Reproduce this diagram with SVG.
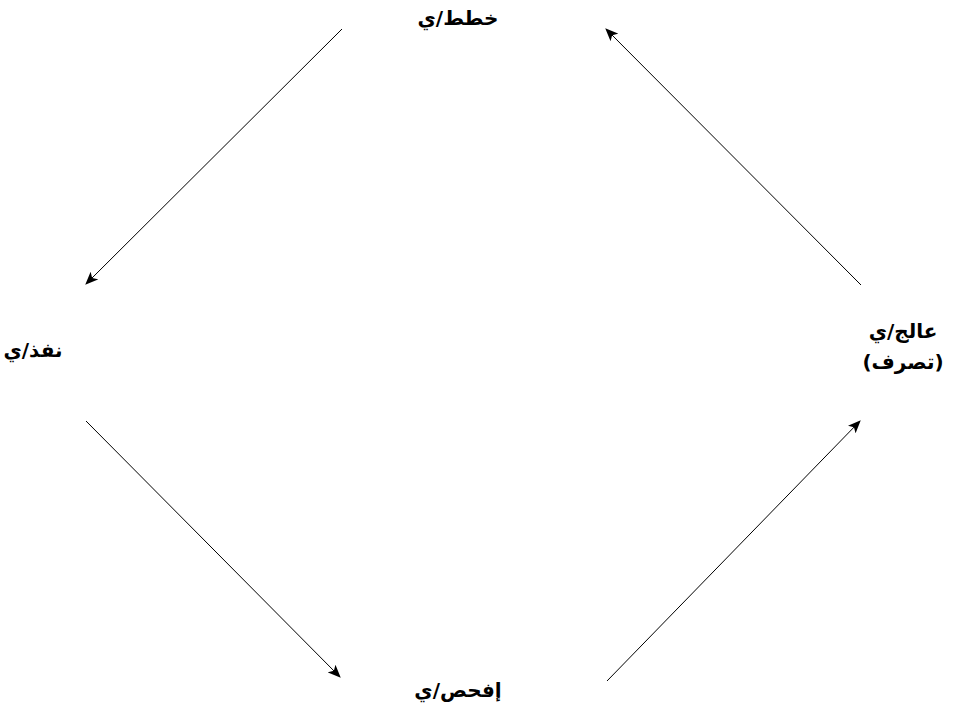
<svg xmlns="http://www.w3.org/2000/svg" width="958" height="709" viewBox="0 0 958 709">
<style>
.lbl{font-family:"DejaVu Sans","Noto Sans",sans-serif;font-weight:bold;font-size:20px;fill:#000;direction:rtl;unicode-bidi:embed}
.edge{stroke:#000;stroke-width:1;fill:none;marker-end:url(#arr)}
</style>
<defs>
<marker id="arr" viewBox="0 0 12 10" refX="11" refY="5" markerWidth="13" markerHeight="11" markerUnits="userSpaceOnUse" orient="auto">
<path d="M0,0 L12,5 L0,10 L3,5 Z" fill="#000"/>
</marker>
</defs>
<rect width="958" height="709" fill="#fff"/>
<g id="connectors">
<line class="edge" x1="342" y1="29" x2="86" y2="284"/>
<line class="edge" x1="86" y1="421" x2="340" y2="677"/>
<line class="edge" x1="607" y1="681" x2="860" y2="421"/>
<line class="edge" x1="861" y1="285" x2="606" y2="29"/>
</g>
<g id="plan"><text class="lbl" x="458" y="25" text-anchor="middle">خطط/ي</text></g>
<g id="do"><text class="lbl" x="33" y="357" text-anchor="middle">نفذ/ي</text></g>
<g id="act"><text class="lbl" x="903" y="338" text-anchor="middle">عالج/ي</text><text class="lbl" x="903" y="369" text-anchor="middle">(تصرف)</text></g>
<g id="check"><text class="lbl" x="458" y="697" text-anchor="middle">إفحص/ي</text></g>
</svg>
